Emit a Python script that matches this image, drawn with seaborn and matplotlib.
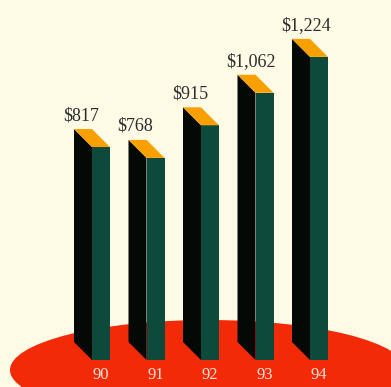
import matplotlib
matplotlib.use("Agg")
import matplotlib.pyplot as plt
from matplotlib.patches import Polygon, Ellipse
import seaborn as sns
import pandas as pd

# Annual values (in dollars) by fiscal year
years = ["90", "91", "92", "93", "94"]
values = [817, 768, 915, 1062, 1224]

df = pd.DataFrame({"year": years, "value": values})

BG = "#fdfae6"
FRONT = "#0e4a3c"
SIDE = "#040906"
TOP = "#f7a000"
FLOOR = "#f22a08"
LABEL = "#2b2b2b"

W_PX, H_PX = 391, 387
sns.set_theme(style="white")
plt.rcParams["font.family"] = ["Liberation Serif", "DejaVu Serif"]

fig = plt.figure(figsize=(W_PX / 100, H_PX / 100), dpi=100, facecolor=BG)
ax = fig.add_axes([0, 0, 1, 1])
ax.set_facecolor(BG)

# Scale: 54.5 px per category, 0.2215 px per dollar; zero sits 328 px from top
px_cat = 54.5
px_val = 0.2215
x_left = -101 / px_cat
x_right = x_left + W_PX / px_cat
y_top = 328 / px_val
y_bottom = y_top - H_PX / px_val

sns.barplot(data=df, x="year", y="value", color=FRONT, width=18 / px_cat,
            saturation=1, ax=ax, zorder=3, edgecolor="none", linewidth=0)

ax.set_xlim(x_left, x_right)
ax.set_ylim(y_bottom, y_top)
ax.axis("off")

# Bars start below the zero line, on the floor
base = -32 / px_val
depth_x = 18 / px_cat
depth_y = 18 / px_val

# Red floor ellipse behind the bars
floor = Ellipse(((208 - 101) / px_cat, (328 - 370) / px_val),
                width=396 / px_cat, height=100 / px_val,
                facecolor=FLOOR, edgecolor="none", zorder=1)
ax.add_patch(floor)

for patch, val, yr in zip(ax.patches[:len(values)], values, years):
    patch.set_y(base)
    patch.set_height(val - base)
    x0 = patch.get_x()
    x1 = x0 + patch.get_width()
    top = val
    side = Polygon([(x0, base), (x0, top), (x0 - depth_x, top + depth_y),
                    (x0 - depth_x, base + depth_y)],
                   closed=True, facecolor=SIDE, edgecolor="none", zorder=2.5)
    lid = Polygon([(x0, top), (x1, top), (x1 - depth_x, top + depth_y),
                   (x0 - depth_x, top + depth_y)],
                  closed=True, facecolor=TOP, edgecolor="none", zorder=4)
    ax.add_patch(side)
    ax.add_patch(lid)
    ax.text(x0 - depth_x - 11 / px_cat, top + depth_y + 9 / px_val,
            f"${val:,}", ha="left", va="baseline", fontsize=13,
            color=LABEL, zorder=5)
    ax.text((x0 + x1) / 2, base - 19 / px_val, yr, ha="center",
            va="baseline", fontsize=12, color="#fde4d8", zorder=5)

fig.savefig("out.png", dpi=100, facecolor=BG)
